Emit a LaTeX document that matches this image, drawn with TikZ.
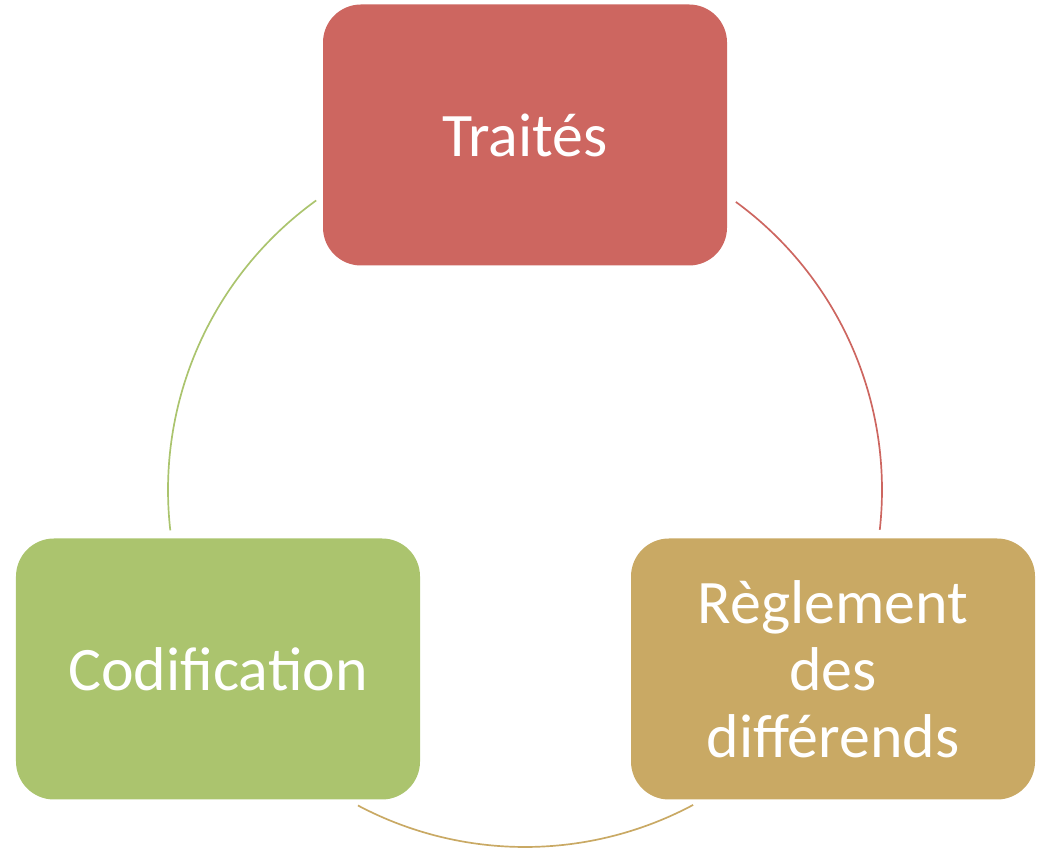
\documentclass[tikz,border=0pt]{standalone}
\usepackage{fontspec}
\setmainfont{Carlito}
\usetikzlibrary{calc}

\definecolor{trred}{HTML}{CD6660}
\definecolor{cdgreen}{HTML}{ABC46E}
\definecolor{rgtan}{HTML}{C9A964}

\begin{document}
\begin{tikzpicture}[
			box/.style={rectangle,rounded corners=0.95cm,fill=#1,draw=none,
				minimum width=10.1cm,minimum height=6.525cm,text=white,
				align=center,font=\fontsize{44}{47.5}\selectfont},
			link/.style={draw=#1,line width=1.2pt}]
			
			\useasboundingbox (0,0) rectangle (26.05,21.225);
			
			% Centre of the cycle
			\coordinate (c) at (13.125,8.975);
			\def\rad{8.925}
			
			% The three stages
			\node[box=trred] (tr) at (13.125,17.85) {Traités};
			\node[box=cdgreen] (cd) at (5.45,4.5) {Codification};
			\node[box=rgtan] (rg) at (20.825,4.5) {Règlement\\des\\différends};
			
			% Arc ends on the circle
			\foreach \nm/\ang in {l1/125.8, l2/186.5, r1/53.8, r2/-6.4, b1/242.1, b2/298.1} {
				\coordinate (\nm) at ($(c)+(\ang:\rad)$);
			}
			
			% Arcs between the stages
			\draw[link=cdgreen] (l2) arc[start angle=186.5,end angle=125.8,radius=\rad];
			\draw[link=trred] (r1) arc[start angle=53.8,end angle=-6.4,radius=\rad];
			\draw[link=rgtan] (b2) arc[start angle=298.1,end angle=242.1,radius=\rad];
			
		\end{tikzpicture}
\end{document}
